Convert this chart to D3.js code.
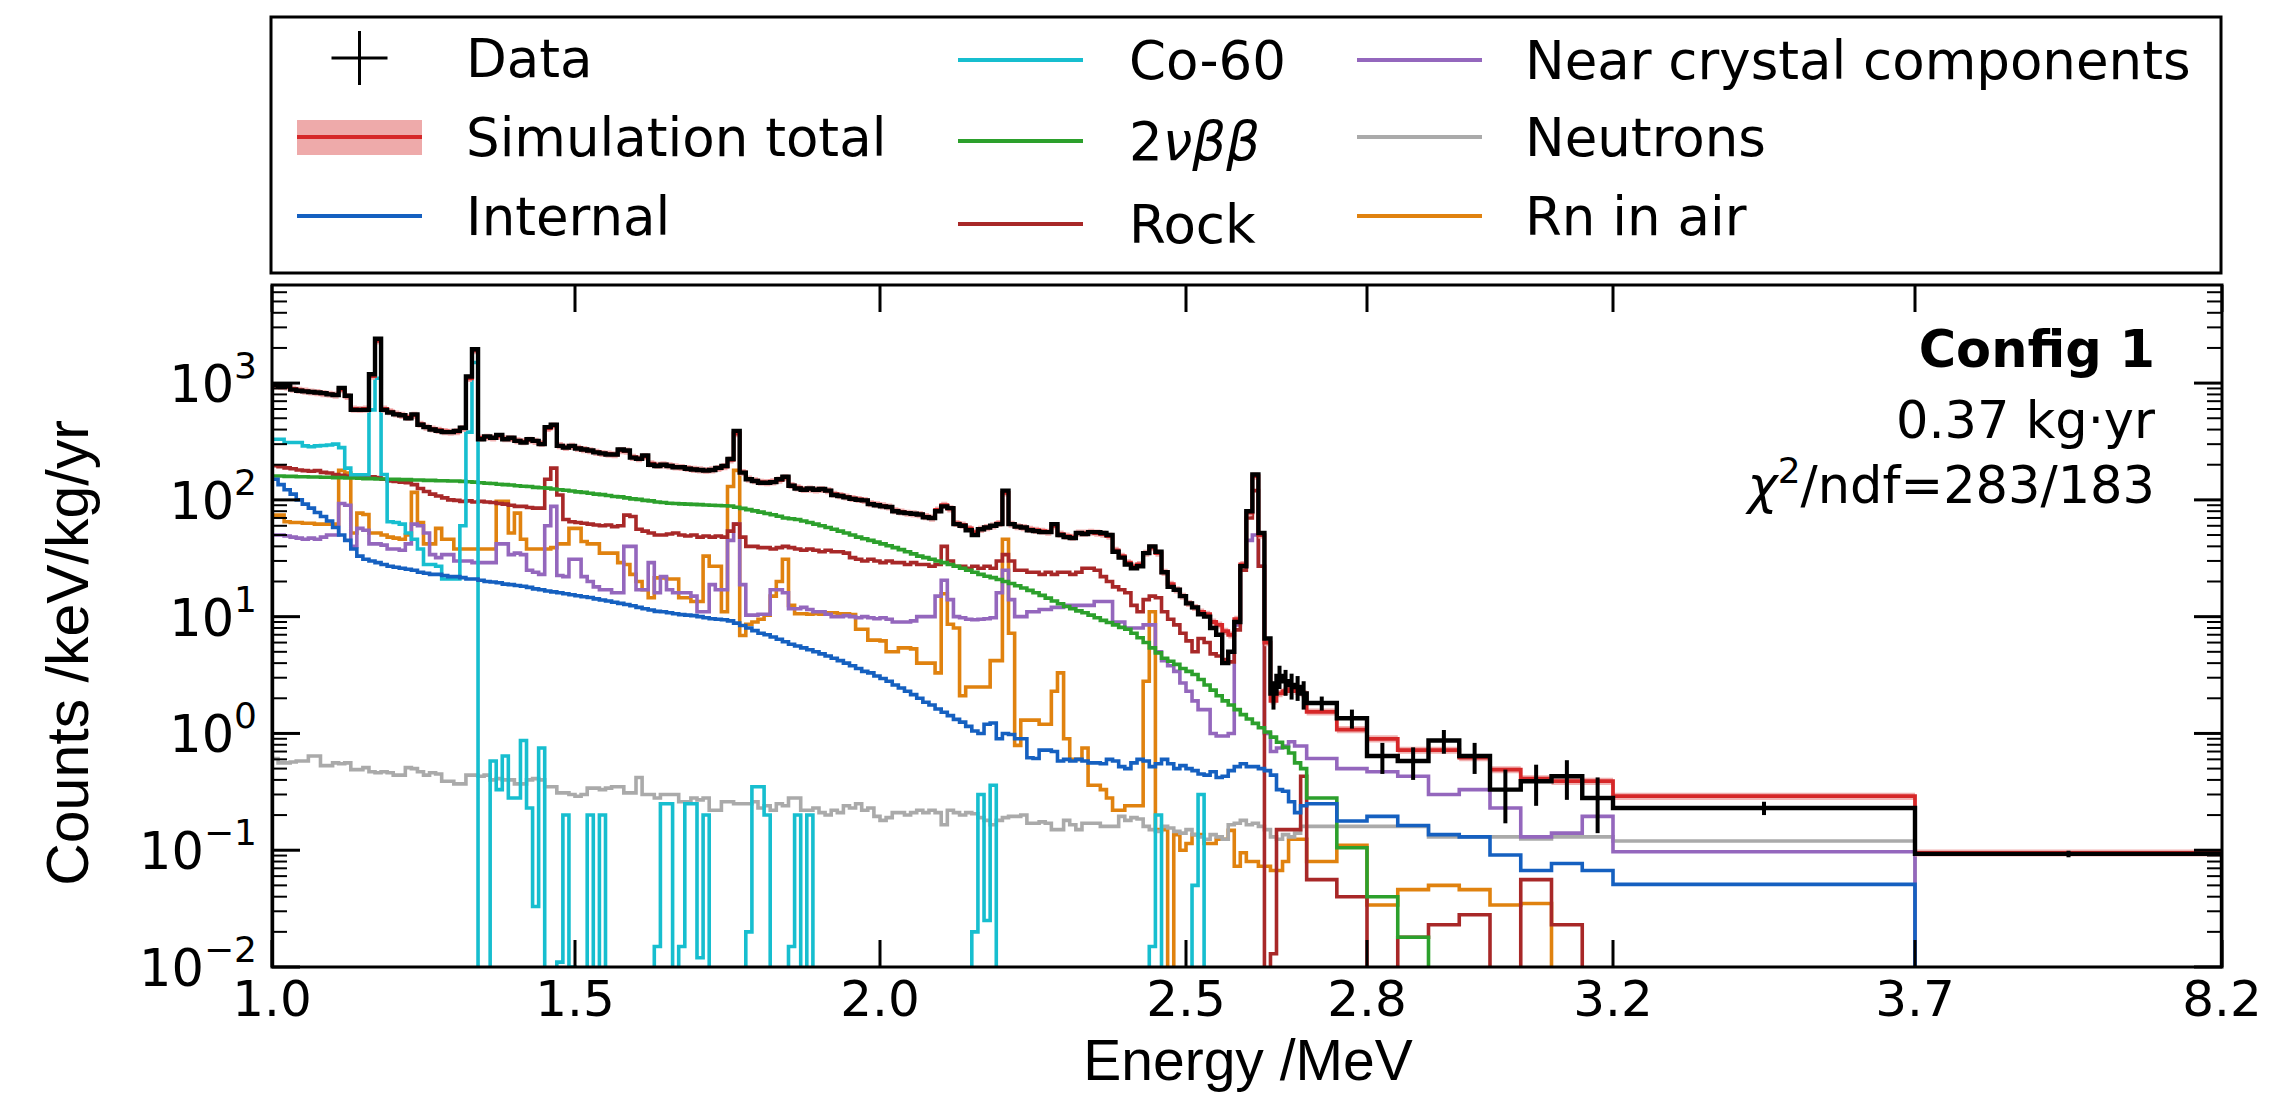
<!DOCTYPE html>
<html><head><meta charset="utf-8">
<script src="https://cdn.jsdelivr.net/npm/d3@7"></script>
<style>
body{margin:0;background:#fff}
svg{display:block}
text{font-family:"DejaVu Sans",sans-serif;fill:#000}
</style>
</head><body>
<svg id="chart" width="2295" height="1095"></svg>
<script>
// ---------------- DATA ----------------
// bin edges: 10 keV bins 1.00-2.70 MeV, then wide bins
const fineEdges = d3.range(0, 171).map(i => Math.round((1 + i * 0.01) * 100) / 100);
const wideEdges = [2.75, 2.80, 2.85, 2.90, 2.95, 3.00, 3.05, 3.10, 3.15, 3.20, 3.70, 8.20];
const binEdges = fineEdges.concat(wideEdges);

const xTickValues = [1.0, 1.5, 2.0, 2.5, 2.8, 3.2, 3.7, 8.2];
const xTickLabels = ["1.0", "1.5", "2.0", "2.5", "2.8", "3.2", "3.7", "8.2"];
const yTickExponents = [-2, -1, 0, 1, 2, 3];

const dataCounts = [
960,950,940,880,860,850,840,830,820,800,
790,910,780,590,590,590,1190,2400,590,560,
540,530,500,540,440,420,400,390,380,380,
390,415,1140,1950,330,350,340,360,330,340,
320,310,330,320,300,420,440,290,280,290,
275,270,265,255,250,245,245,270,265,230,
225,240,200,195,200,195,190,190,185,182,
180,178,180,188,195,224,390,171,150,145,
140,140,142,150,158,132,125,122,125,122,
124,120,110,108,105,102,100,99,92,90,
88,87,80,78,77,76,75,71,70,80,
88,85,62,60,55,50,56,58,60,62,
120,62,59,58,55,54,53,53,62,50,
48,47,52,51,53,53,52,50,36,32,
28,26,27,35,40,36,24,18,17,15,
13,12,10.5,10,8,7,4.0,5,9,27,
80,165,52,6.5,2.2,3.1,2.8,2.6,2.5,2.2,
1.82,1.35,0.64,0.58,0.87,0.64,0.33,0.39,0.43,0.28,0.23,0.093];

// statistical error of the data for the last (low-count) bins, starting at bin index 164
const dataErrStart = 164;
const dataErrTail = [0.6,0.7,0.7,0.65,0.6,0.6,0.25,0.25,0.19,0.18,0.2,0.19,0.16,0.15,0.16,0.14,0.03,0.006];

const simTotal = [
950,940,930,890,870,855,840,830,815,805,
790,880,770,600,595,600,1150,2300,600,570,
545,530,510,530,445,420,405,395,385,380,
385,410,1100,1900,340,345,340,350,335,335,
322,315,325,318,305,410,430,292,282,288,
277,270,264,256,250,247,244,265,262,232,
226,235,204,198,200,196,192,190,186,183,
181,179,181,186,193,220,370,172,151,146,
142,141,143,148,155,133,127,123,124,122,
123,120,112,109,106,103,101,99,93,91,
89,87,81,79,77,76,75,72,70,82,
90,84,63,61,57,53,56,58,60,63,
115,62,59,58,56,55,54,53,60,51,
49,48,52,52,53,52,51,49,37,33,
29,27,28,35,39,35,24,19,17,15,
13,12,11,10.5,9,8.5,7.5,7,9.5,28,
78,160,50,6,1.9,2.2,2.3,2.4,2.3,2.2,
1.53,1.08,0.9,0.72,0.72,0.62,0.49,0.41,0.39,0.39,0.29,0.095];

const internal = [
150,135,122,112,100,92,85,78,72,66,
58,50,45,38,33,31,30,29,28,27,
26.5,26,25.5,25,24,23.5,23,23,22.5,22,
22,21.6,21,21,20.5,20,19.8,19.5,19,18.8,
18.5,18.2,17.8,17.3,17,16.6,16.3,16,15.7,15.4,
15.1,14.8,14.6,14.2,13.9,13.6,13.3,13,12.7,12.4,
12,11.7,11.4,11.1,11,10.8,10.6,10.4,10.3,10.2,
10,9.8,9.6,9.5,9.4,9.2,8.8,8.4,8,7.6,
7.2,7,6.7,6.4,6.1,5.8,5.6,5.4,5.2,5,
4.8,4.6,4.4,4.2,4.0,3.8,3.6,3.4,3.3,3.1,
2.95,2.8,2.6,2.45,2.3,2.15,2.0,1.85,1.75,1.62,
1.52,1.42,1.32,1.25,1.15,1.05,1.0,1.2,1.23,0.9,
1.0,0.98,0.9,0.9,0.62,0.61,0.72,0.72,0.7,0.58,
0.6,0.58,0.6,0.58,0.56,0.56,0.55,0.6,0.58,0.52,
0.5,0.56,0.6,0.58,0.52,0.55,0.6,0.55,0.5,0.53,
0.5,0.48,0.45,0.44,0.47,0.42,0.43,0.48,0.52,0.55,
0.52,0.52,0.5,0.48,0.44,0.33,0.32,0.26,0.21,0.24,
0.25,0.178,0.195,0.163,0.136,0.13,0.091,0.067,0.077,0.067,0.051,0];

const cobalt60 = [
330,330,310,310,310,290,285,290,292,295,
300,280,187,164,164,164,590,1100,165,65,
64,62,52,46,38,28,28,27,21,21,
21,60,380,1500,0,0,0.58,0.33,0.64,0.28,
0.28,0.87,0.23,0.033,0.75,0,0,0.011,0.2,0.01,
0,0,0.2,0,0.2,0,0,0,0,0,
0,0,0,0.015,0.25,0.25,0,0.015,0.25,0.25,
0.012,0.2,0,0,0,0,0,0,0.02,0.35,
0.35,0.2,0,0,0,0.015,0.2,0,0.2,0,
0,0,0,0,0,0,0,0,0,0,
0,0,0,0,0,0,0,0,0,0,
0,0,0,0,0,0.02,0.3,0.025,0.36,0,
0,0,0,0,0,0,0,0,0,0,
0,0,0,0,0,0,0,0,0,0,
0,0,0,0,0.015,0.2,0,0,0,0,
0,0.05,0.3,0,0,0,0,0,0,0,
0,0,0,0,0,0,0,0,0,0,
0,0,0,0,0,0,0,0,0,0,0,0];

const twoNuBB = [
160,160,159,159,158,158,157,157,156,156,
155,155,154,154,153,152,152,151,151,150,
150,149,149,148,148,147,147,146,146,145,
145,144,143,142,140,139,138,136,135,134,
132,131,130,128,127,126,124,122,121,119,
117,116,114,112,111,109,107,106,104,102,
101,99,98,96,95,93.5,93,92.5,92,91.5,
91,90.5,90,89.5,89,88.5,86.5,84.5,82.5,80.5,
78.5,76.5,74.5,72.5,70,69,68,66,64,62,
60,58,56,54,52,50,48,46.5,45,43.5,
42,40.5,39,37.5,36,34.5,33,32,31,30,
29,28,27,26,25,24,23,22.2,21.6,20.8,
20,19.2,18.4,17.6,16.8,16,15.2,14.4,13.6,12.9,
12.2,11.7,11.2,10.8,10.3,9.8,9.3,8.9,8.5,8.1,
7.8,7.2,6.6,6.0,5.4,4.9,4.4,4.15,3.9,3.6,
3.4,3.2,2.9,2.6,2.35,2.1,1.9,1.75,1.6,1.45,
1.33,1.22,1.12,1.03,0.93,0.84,0.76,0.68,0.56,0.5,
0.28,0.105,0.04,0.018,0,0,0,0,0,0,0,0];

const rock = [
196,192,188,185,180,178,176,178,172,170,
165,162,160,158,158,156,158,155,150,145,
144,142,140,135,125,118,112,108,104,100,
99,97,98,96,97,96,95,93,92,90,
88,88,86,85,85,150,187,110,68,65,
64,63,62,61,60,61,59,60,74,72,
56,54,52,50,50,51,52,50,49,50,
48,49,48,49,48,54,62,48,40,40,
39,39,38,39,40,39,38,37,38,37,
36,37,36,36,35,32,31,30,31,30,
29,30,29,29,28,29,28,28,27,28,
40,30,27,27,26,27,26,27,26,30,
34,30,25,25,24,24,23,24,23,24,
24,23,24,26,26,25,22,20,18,17,
16,12.5,11,14,15,14.5,11,9.5,8.5,7.2,
6.2,5,6.5,6.0,4.8,4.6,4.3,4.1,7.7,25,
70,120,27,0,0.013,0.15,0.15,0.15,0.15,0.43,
0.056,0.04,0,0.018,0.023,0.028,0,0.056,0.023,0,0,0];

const nearCrystal = [
50,50,49,48,47,46,47,46,48,50,
50,93,90,40,57,55,42,42,41,38,
38,37,42,62,60,52,34,32,34,34,
30,30,30,29,29,29,29,42,42,34,
35,34,25,24,23,60,88,22.5,22,31,
31,22,20,18,17,17,16,16,40,40,
17,17,29,16,22,17,16,16,16,15,
11,11,18.8,17,17,45,62,18.8,10.3,10.3,
10.5,10.5,17,17,16,11.7,11.7,12,11.5,11,
11,10.5,10,10,10.2,10,9.8,10,9.8,9.6,
9.8,9.5,9,9,9,9.2,10,10,10,15,
20.5,14,10,9.8,9.5,9.4,9.5,9.6,9.8,16,
25,14,10,10,11,11,11.5,11.5,12,12,
12.5,12.5,12.5,12.5,12.5,13.5,13.5,13.5,9,9,
8,8,8,8.5,8.5,5,4.2,3.8,3.4,2.7,
2.3,1.9,1.6,1.6,1.0,0.95,0.95,1.0,8.5,27,
45,50,27,1.0,0.7,0.75,0.78,0.85,0.78,0.78,
0.61,0.5,0.47,0.43,0.3,0.33,0.23,0.13,0.14,0.195,0.097,0];

const neutrons = [
0.61,0.56,0.56,0.57,0.58,0.58,0.64,0.64,0.53,0.53,
0.56,0.55,0.56,0.49,0.49,0.51,0.47,0.46,0.47,0.46,
0.44,0.44,0.51,0.5,0.47,0.44,0.46,0.45,0.39,0.39,
0.37,0.37,0.44,0.44,0.43,0.44,0.40,0.41,0.40,0.40,
0.37,0.37,0.40,0.41,0.40,0.35,0.35,0.31,0.31,0.3,
0.29,0.3,0.34,0.34,0.33,0.34,0.35,0.35,0.31,0.31,
0.42,0.3,0.3,0.28,0.3,0.3,0.3,0.26,0.26,0.28,
0.27,0.28,0.22,0.22,0.26,0.26,0.25,0.25,0.25,0.26,
0.23,0.24,0.22,0.25,0.24,0.28,0.28,0.22,0.22,0.23,
0.21,0.2,0.22,0.21,0.24,0.23,0.25,0.22,0.23,0.195,
0.18,0.19,0.21,0.21,0.2,0.21,0.22,0.21,0.22,0.21,
0.165,0.22,0.21,0.2,0.21,0.205,0.19,0.18,0.165,0.18,
0.19,0.195,0.195,0.2,0.17,0.17,0.175,0.17,0.15,0.15,
0.18,0.165,0.15,0.17,0.17,0.17,0.16,0.16,0.16,0.195,
0.18,0.19,0.185,0.16,0.15,0.145,0.16,0.155,0.145,0.14,
0.15,0.136,0.13,0.124,0.136,0.13,0.124,0.165,0.17,0.18,
0.165,0.17,0.16,0.15,0.13,0.124,0.136,0.13,0.14,0.16,
0.16,0.16,0.16,0.16,0.13,0.13,0.13,0.125,0.13,0.13,0.12,0];

const rnInAir = [
74,74,65,64,64,63,63,62,62,62,
62,179,170,52,77,75,52,52,50,48,
47,46,50,116,64,42,42,57,46,46,
38,38,38,38,38,38,38,97,97,52,
77,46,38,38,38,38,39,42,42,57,
57,44,42,42,35,35,35,29,28,23,
20,17,14.5,21.5,21.5,21,21,14.5,14.5,13.5,
13.5,33,27,27,11,130,179,6.9,8.6,9,
9.5,10.3,15,20,31,12.5,10.6,10.6,10.5,10.6,
10.5,10.8,10.8,10.6,10.6,10.4,7.8,7.8,6.3,6.3,
6.2,5,5,5.4,5.4,5.3,4.0,4.0,4.0,3.3,
15.7,8.6,8.0,2.1,2.5,2.5,2.5,2.5,4.2,4.2,
46,7.2,0.79,1.3,1.3,1.3,1.2,1.2,2.3,3.3,
0.9,0.6,0.6,0.75,0.36,0.36,0.33,0.28,0.22,0.22,
0.24,0.24,0.24,2.8,11,0.15,0.15,0,0.136,0.1,
0.114,0.136,0.136,0.114,0.114,0.124,0.124,0.148,0.073,0.095,
0.08,0.08,0.073,0.073,0.067,0.067,0.08,0.124,0.124,0.124,
0.08,0.11,0.034,0.046,0.05,0.046,0.034,0.035,0,0,0,0];

// ---------------- LAYOUT ----------------
const svg = d3.select("#chart");
const L = 272, R = 2222, T = 285, B = 967;

const nBins = binEdges.length - 1;
[["dataCounts",dataCounts],["simTotal",simTotal],["internal",internal],["cobalt60",cobalt60],
 ["twoNuBB",twoNuBB],["rock",rock],["nearCrystal",nearCrystal],["neutrons",neutrons],["rnInAir",rnInAir]]
 .forEach(([n,a]) => { if (a.length !== nBins) throw new Error(n + " has " + a.length + " values, expected " + nBins); });

// non-uniform energy axis (piecewise linear between labelled ticks)
const x = d3.scaleLinear().domain(xTickValues).range([272, 575, 880, 1186, 1367, 1613, 1915, 2222]);
const y = d3.scaleLog().domain([0.01, Math.pow(10, 3.84)]).range([B, T]);

svg.append("defs").append("clipPath").attr("id", "plotclip")
  .append("rect").attr("x", L).attr("y", T).attr("width", R - L).attr("height", B - T);

const plot = svg.append("g").attr("clip-path", "url(#plotclip)");
const yOut = B + 20;

function stepPoints(vals) {
  const pts = [[binEdges[0], 0]];
  vals.forEach((v, i) => { pts.push([binEdges[i], v]); pts.push([binEdges[i + 1], v]); });
  pts.push([binEdges[binEdges.length - 1], 0]);
  return pts;
}
const stepLine = d3.line().x(d => x(d[0])).y(d => d[1] > 0 ? y(d[1]) : yOut);

function drawHist(vals, color, width) {
  plot.append("path").attr("d", stepLine(stepPoints(vals)))
    .attr("fill", "none").attr("stroke", color).attr("stroke-width", width)
    .attr("stroke-linejoin", "miter");
}

const colors = {
  data: "#000000", total: "#d62728", band: "#eeaaaa", internal: "#1560c0",
  co60: "#17becf", twonu: "#2ca02c", rock: "#a82828", near: "#9467bd",
  neutrons: "#aaaaaa", rn: "#e0820f"
};

const compW = 3.6;
drawHist(rnInAir, colors.rn, compW);
drawHist(neutrons, colors.neutrons, compW);
drawHist(nearCrystal, colors.near, compW);
drawHist(rock, colors.rock, compW);
drawHist(twoNuBB, colors.twonu, compW);
drawHist(cobalt60, colors.co60, compW);
drawHist(internal, colors.internal, compW);

// simulation total uncertainty band
const bandPts = [];
simTotal.forEach((v, i) => { bandPts.push([binEdges[i], v]); bandPts.push([binEdges[i + 1], v]); });
plot.append("path")
  .attr("d", d3.area().x(d => x(d[0])).y0(d => y(d[1] * 0.93)).y1(d => y(d[1] * 1.07))(bandPts))
  .attr("fill", colors.band).attr("opacity", 0.9);
drawHist(simTotal, colors.total, 3.8);
drawHist(dataCounts, colors.data, 4.4);

// data error bars for low-statistics bins
dataErrTail.forEach((e, k) => {
  const i = dataErrStart + k;
  const v = dataCounts[i];
  const xc = x((binEdges[i] + binEdges[i + 1]) / 2);
  plot.append("line").attr("x1", xc).attr("x2", xc)
    .attr("y1", y(v + e)).attr("y2", y(Math.max(v - e, 0.011)))
    .attr("stroke", "#000").attr("stroke-width", 4);
});

// ---------------- AXES ----------------
const axes = svg.append("g");
// x ticks (inward, top and bottom)
xTickValues.forEach((v, i) => {
  const xx = x(v);
  axes.append("line").attr("x1", xx).attr("x2", xx).attr("y1", B).attr("y2", B - 27)
    .attr("stroke", "#000").attr("stroke-width", 3);
  axes.append("line").attr("x1", xx).attr("x2", xx).attr("y1", T).attr("y2", T + 27)
    .attr("stroke", "#000").attr("stroke-width", 3);
  axes.append("text").attr("x", xx).attr("y", 1016).attr("text-anchor", "middle")
    .attr("font-size", 50).text(xTickLabels[i]);
});
// y ticks (major + minor, inward, both sides)
const yMax = y.domain()[1];
yTickExponents.forEach(p => {
  for (let m = 1; m <= 9; m++) {
    const v = m * Math.pow(10, p);
    if (v > yMax) break;
    const yy = y(v);
    const len = m === 1 ? 28 : 15;
    const w = m === 1 ? 3 : 2;
    axes.append("line").attr("x1", L).attr("x2", L + len).attr("y1", yy).attr("y2", yy)
      .attr("stroke", "#000").attr("stroke-width", w);
    axes.append("line").attr("x1", R).attr("x2", R - len).attr("y1", yy).attr("y2", yy)
      .attr("stroke", "#000").attr("stroke-width", w);
  }
  const t = axes.append("text").attr("x", 257).attr("y", y(Math.pow(10, p)) + 19)
    .attr("text-anchor", "end").attr("font-size", 51);
  t.append("tspan").text("10");
  t.append("tspan").attr("dy", -24).attr("font-size", 36).text(p < 0 ? "\u2212" + (-p) : String(p));
});
// frame
axes.append("rect").attr("x", L).attr("y", T).attr("width", R - L).attr("height", B - T)
  .attr("fill", "none").attr("stroke", "#000").attr("stroke-width", 3);

// axis titles
svg.append("text").attr("transform", "translate(88,653) rotate(-90)")
  .attr("text-anchor", "middle").style("font-family", "'Liberation Sans', Arial, sans-serif")
  .attr("font-size", 59).text("Counts /keV/kg/yr");
svg.append("text").attr("x", 1248).attr("y", 1080)
  .attr("text-anchor", "middle").style("font-family", "'Liberation Sans', Arial, sans-serif")
  .attr("font-size", 57).text("Energy /MeV");

// annotation
const ann = svg.append("g").attr("text-anchor", "end").attr("font-size", 51);
ann.append("text").attr("x", 2155).attr("y", 367).attr("font-weight", "bold").text("Config 1");
ann.append("text").attr("x", 2155).attr("y", 438).text("0.37 kg\u00b7yr");
const chi = ann.append("text").attr("x", 2155).attr("y", 503);
chi.append("tspan").attr("font-style", "italic").text("\u03c7");
chi.append("tspan").attr("dy", -20).attr("font-size", 36).text("2");
chi.append("tspan").attr("dy", 20).text("/ndf=283/183");

// ---------------- LEGEND ----------------
const leg = svg.append("g");
leg.append("rect").attr("x", 271).attr("y", 17).attr("width", 1950).attr("height", 256)
  .attr("fill", "#fff").attr("stroke", "#000").attr("stroke-width", 3);

const legendEntries = [
  {label: "Data", kind: "data", hx: 297, tx: 466, y: 58},
  {label: "Simulation total", kind: "band", color: colors.total, hx: 297, tx: 466, y: 137},
  {label: "Internal", color: colors.internal, hx: 297, tx: 466, y: 216},
  {label: "Co-60", color: colors.co60, hx: 958, tx: 1129, y: 60},
  {label: "2\u03bd\u03b2\u03b2", kind: "math", color: colors.twonu, hx: 958, tx: 1129, y: 141},
  {label: "Rock", color: colors.rock, hx: 958, tx: 1129, y: 224},
  {label: "Near crystal components", color: colors.near, hx: 1357, tx: 1525, y: 60},
  {label: "Neutrons", color: colors.neutrons, hx: 1357, tx: 1525, y: 137},
  {label: "Rn in air", color: colors.rn, hx: 1357, tx: 1525, y: 216}
];
legendEntries.forEach(e => {
  const hw = 125;
  if (e.kind === "data") {
    const cx = e.hx + hw / 2;
    leg.append("line").attr("x1", cx).attr("x2", cx).attr("y1", e.y - 27).attr("y2", e.y + 27)
      .attr("stroke", "#000").attr("stroke-width", 3);
    leg.append("line").attr("x1", cx - 28).attr("x2", cx + 28).attr("y1", e.y).attr("y2", e.y)
      .attr("stroke", "#000").attr("stroke-width", 3);
  } else {
    if (e.kind === "band") {
      leg.append("rect").attr("x", e.hx).attr("y", e.y - 17).attr("width", hw).attr("height", 35)
        .attr("fill", colors.band);
    }
    leg.append("line").attr("x1", e.hx).attr("x2", e.hx + hw).attr("y1", e.y).attr("y2", e.y)
      .attr("stroke", e.color).attr("stroke-width", 4);
  }
  const t = leg.append("text").attr("x", e.tx).attr("y", e.y + 19).attr("font-size", 53);
  if (e.kind === "math") {
    t.append("tspan").text("2");
    t.append("tspan").attr("font-style", "italic").text("\u03bd\u03b2\u03b2");
  } else {
    t.text(e.label);
  }
});
</script>
</body></html>
